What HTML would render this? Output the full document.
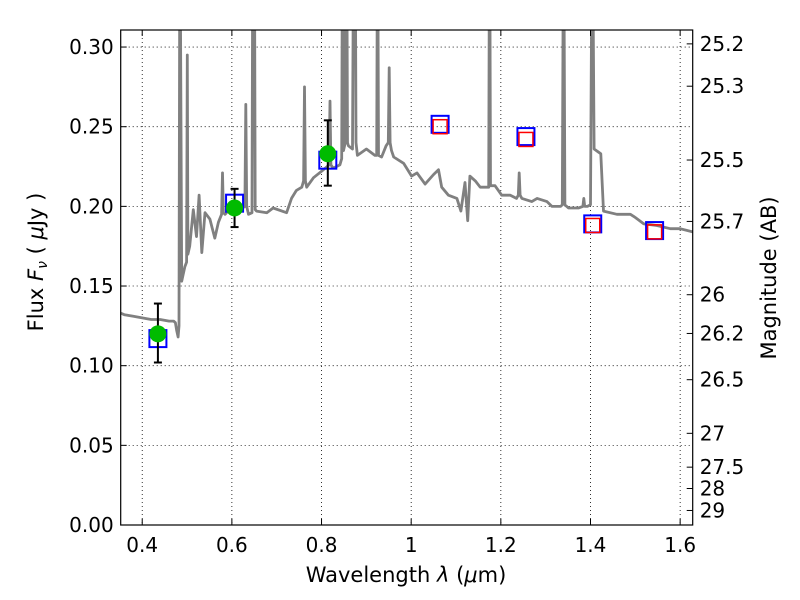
<!DOCTYPE html>
<html><head><meta charset="utf-8"><style>
html,body{margin:0;padding:0;background:#fff;}
svg{display:block;font-family:"DejaVu Sans","Liberation Sans",sans-serif;}
</style></head><body>
<svg id="chart" width="800" height="600" viewBox="0 0 800 600" xmlns="http://www.w3.org/2000/svg"></svg>
<script>
const specWave=[0.352,0.36,0.38,0.40,0.42,0.44,0.46,0.47,0.474,0.477,0.480,0.482,0.484,0.488,0.495,0.499,0.5005,0.502,0.506,0.514,0.521,0.527,0.533,0.54,0.551,0.562,0.57,0.577,0.579,0.581,0.585,0.6,0.618,0.629,0.631,0.633,0.637,0.645,0.647,0.650,0.652,0.655,0.678,0.692,0.722,0.733,0.744,0.756,0.760,0.762,0.764,0.767,0.782,0.8,0.817,0.819,0.821,0.826,0.841,0.845,0.847,0.849,0.853,0.856,0.858,0.860,0.869,0.872,0.875,0.877,0.88,0.9,0.919,0.923,0.925,0.927,0.934,0.944,0.949,0.951,0.953,0.956,0.961,0.983,1.001,1.013,1.031,1.05,1.061,1.068,1.083,1.102,1.111,1.12,1.126,1.131,1.143,1.154,1.169,1.173,1.175,1.177,1.187,1.202,1.221,1.235,1.239,1.241,1.243,1.247,1.269,1.281,1.303,1.314,1.333,1.337,1.340,1.343,1.351,1.373,1.383,1.385,1.387,1.393,1.400,1.404,1.408,1.418,1.423,1.429,1.459,1.489,1.5,1.519,1.548,1.578,1.6,1.628];
const specFlux=[0.133,0.132,0.131,0.130,0.129,0.129,0.128,0.128,0.127,0.122,0.118,0.125,0.40,0.153,0.162,0.165,0.295,0.170,0.175,0.198,0.181,0.207,0.171,0.196,0.192,0.180,0.190,0.195,0.221,0.196,0.195,0.200,0.198,0.200,0.264,0.200,0.195,0.196,0.40,0.40,0.198,0.197,0.196,0.199,0.196,0.205,0.210,0.212,0.216,0.275,0.216,0.212,0.218,0.222,0.226,0.266,0.226,0.224,0.226,0.230,0.40,0.235,0.240,0.40,0.240,0.238,0.236,0.40,0.40,0.240,0.232,0.236,0.232,0.232,0.40,0.232,0.231,0.238,0.240,0.287,0.240,0.235,0.231,0.227,0.219,0.221,0.214,0.220,0.223,0.212,0.207,0.205,0.197,0.215,0.191,0.219,0.216,0.212,0.212,0.212,0.40,0.213,0.213,0.207,0.207,0.205,0.207,0.221,0.207,0.205,0.203,0.205,0.203,0.200,0.200,0.201,0.40,0.201,0.199,0.199,0.200,0.205,0.200,0.200,0.201,0.40,0.236,0.234,0.233,0.197,0.195,0.195,0.193,0.189,0.188,0.186,0.186,0.184];
const obsWave=[0.435,0.606,0.814];
const obsFlux=[0.120,0.199,0.233];
const obsErrLo=[0.102,0.187,0.213];
const obsErrHi=[0.139,0.211,0.254];
const modelWave=[0.435,0.606,0.814,1.0645,1.256,1.405,1.543];
const modelFlux=[0.117,0.202,0.229,0.2515,0.2438,0.189,0.1848];
const redWave=[1.0645,1.256,1.405,1.543];
const redFlux=[0.250,0.242,0.188,0.184];
const xTicks=[0.4,0.6,0.8,1.0,1.2,1.4,1.6];
const xTickLabels=["0.4","0.6","0.8","1","1.2","1.4","1.6"];
const yTicks=[0,0.05,0.10,0.15,0.20,0.25,0.30];
const yTickLabels=["0.00","0.05","0.10","0.15","0.20","0.25","0.30"];
const magTicks=[25.2,25.3,25.5,25.7,26,26.2,26.5,27,27.5,28,29];
const magTickLabels=["25.2","25.3","25.5","25.7","26","26.2","26.5","27","27.5","28","29"];

const L=120.7,R=692.7,T=30,B=525;
const xmin=0.352,xmax=1.628,ymin=0,ymax=0.3107;
const sx=v=>L+(v-xmin)/(xmax-xmin)*(R-L);
const sy=v=>B-(v-ymin)/(ymax-ymin)*(B-T);
const NS="http://www.w3.org/2000/svg";
const svg=document.getElementById('chart');
function mk(tag,attrs,parent){const e=document.createElementNS(NS,tag);for(const k in attrs)e.setAttribute(k,attrs[k]);(parent||svg).appendChild(e);return e;}

const defs=mk('defs',{});
const cp=mk('clipPath',{id:'clip'},defs);
mk('rect',{x:L,y:T,width:R-L,height:B-T},cp);

const grid=mk('g',{});


xTicks.forEach(v=>{mk('line',{x1:sx(v),x2:sx(v),y1:T,y2:B,stroke:'#000','stroke-width':0.8,'stroke-dasharray':'1,3'},grid);});
yTicks.forEach(v=>{mk('line',{x1:L,x2:R,y1:sy(v),y2:sy(v),stroke:'#000','stroke-width':0.8,'stroke-dasharray':'1,3'},grid);});

const sp=mk('g',{'clip-path':'url(#clip)'});


const pts=specWave.map((w,i)=>sx(w).toFixed(1)+','+sy(specFlux[i]).toFixed(1)).join(' ');
mk('polyline',{points:pts,fill:'none',stroke:'#808080','stroke-width':2.8,'stroke-linejoin':'round'},sp);

const mg=mk('g',{});


modelWave.forEach((w,i)=>{const r=mk('rect',{x:sx(w)-8.5,y:sy(modelFlux[i])-8.5,width:17,height:17,fill:'none',stroke:'#0000ff','stroke-width':2},mg);

});
const rg=mk('g',{});


redWave.forEach((w,i)=>{const r=mk('rect',{x:sx(w)-7,y:sy(redFlux[i])-7,width:14,height:14,fill:'none',stroke:'#ff0000','stroke-width':1.5},rg);

});
const og=mk('g',{});


obsWave.forEach((w,i)=>{const x=sx(w);
mk('line',{x1:x,x2:x,y1:sy(obsErrLo[i]),y2:sy(obsErrHi[i]),stroke:'#000','stroke-width':2},og);
mk('line',{x1:x-4,x2:x+4,y1:sy(obsErrLo[i]),y2:sy(obsErrLo[i]),stroke:'#000','stroke-width':2},og);
mk('line',{x1:x-4,x2:x+4,y1:sy(obsErrHi[i]),y2:sy(obsErrHi[i]),stroke:'#000','stroke-width':2},og);
const c=mk('circle',{cx:x,cy:sy(obsFlux[i]),r:8.5,fill:'#00bb00'},og);

});

mk('rect',{x:L,y:T,width:R-L,height:B-T,fill:'none',stroke:'#000','stroke-width':1.2});

const ax=mk('g',{'font-size':'20px',fill:'#000'});


xTicks.forEach((v,i)=>{const x=sx(v);
mk('line',{x1:x,x2:x,y1:B,y2:B-6,stroke:'#000'},ax);mk('line',{x1:x,x2:x,y1:T,y2:T+6,stroke:'#000'},ax);
const t=mk('text',{x:x,y:B+27,'text-anchor':'middle'},ax);t.textContent=xTickLabels[i];

});
yTicks.forEach((v,i)=>{const y=sy(v);
mk('line',{x1:L,x2:L+6,y1:y,y2:y,stroke:'#000'},ax);
const t=mk('text',{x:L-7,y:y+7,'text-anchor':'end'},ax);t.textContent=yTickLabels[i];

});
magTicks.forEach((m,i)=>{const y=sy(Math.pow(10,(23.9-m)/2.5));
mk('line',{x1:R,x2:R-6,y1:y,y2:y,stroke:'#000'},ax);
const t=mk('text',{x:R+7,y:y+7,'text-anchor':'start'},ax);t.textContent=magTickLabels[i];

});

const xt=mk('text',{x:406,y:582,'text-anchor':'middle','font-size':'21px'});
xt.innerHTML='Wavelength  <tspan font-style="italic">λ</tspan> (<tspan font-style="italic">μ</tspan>m)';


const yt=mk('text',{x:0,y:0,'text-anchor':'middle','font-size':'21px',transform:'translate(43,262) rotate(-90)'});
yt.innerHTML='Flux  <tspan font-style="italic">F</tspan><tspan font-style="italic" font-size="14px" dy="4">ν</tspan><tspan dy="-4">  ( </tspan><tspan font-style="italic">μ</tspan>Jy )';


const rt=mk('text',{x:0,y:0,'text-anchor':'middle','font-size':'21px',transform:'translate(776,278) rotate(-90)'});
rt.textContent='Magnitude (AB)';


</script>
</body></html>
